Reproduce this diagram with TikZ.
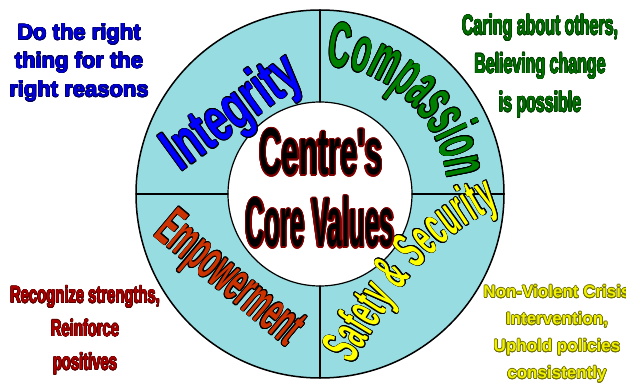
\documentclass[tikz,border=0pt]{standalone}
\usepackage{fontspec}
\setmainfont{Liberation Sans}
\newfontfamily\integrityfont[FakeStretch=0.63]{Liberation Sans}
\newfontfamily\compassionfont[FakeStretch=0.47]{Liberation Sans}
\newfontfamily\empowerfont[FakeStretch=0.45]{Liberation Sans}
\newfontfamily\safetyfont[FakeStretch=0.46]{Liberation Sans}
\newfontfamily\centrefont[FakeStretch=0.47]{Liberation Sans}
\newfontfamily\corefont[FakeStretch=0.37]{Liberation Sans}
\newfontfamily\caringfont[FakeStretch=0.57]{Liberation Sans}
\newfontfamily\strengthfont[FakeStretch=0.63]{Liberation Sans}
\usepackage[copies]{contour}
\usepackage{tkz-euclide}
\usetikzlibrary{decorations.text}
\definecolor{RingClr}{RGB}{150,220,224}
\definecolor{IntegrityClr}{RGB}{0,0,255}
\definecolor{CompassionClr}{RGB}{0,128,0}
\definecolor{EmpowerClr}{RGB}{204,51,0}
\definecolor{SafetyClr}{RGB}{255,255,0}
\definecolor{CoreRimClr}{RGB}{128,0,0}
\definecolor{DoClr}{RGB}{0,0,215}
\definecolor{DoRimClr}{RGB}{0,0,90}
\definecolor{CaringClr}{RGB}{0,110,0}
\definecolor{CaringRimClr}{RGB}{0,60,0}
\definecolor{StrengthClr}{RGB}{170,0,0}
\definecolor{StrengthRimClr}{RGB}{90,0,0}
\definecolor{CrisisClr}{RGB}{240,240,0}
\definecolor{CrisisRimClr}{RGB}{110,110,0}
\newcommand\rimtext[3][0.8pt]{{\contourlength{#1}\contour{#2}{#3}}}
\newcommand\blackchar[1]{\rimtext{black}{#1}}

\begin{document}
\begin{tikzpicture}[x=1pt,y=1pt,every node/.style={inner sep=0pt}]
\tkzSetUpLine[line width=1.2pt,color=black]
\useasboundingbox (0,0) rectangle (626,383);

\tkzDefPoints{320/189/O,320/373/T,320/281/Ti,320/97/Bi,320/5/B}
\tkzDefPoints{136/189/L,228/189/Li,412/189/Ri,504/189/R}

% ring and hub
\fill[RingClr] (O) circle[radius=184];
\draw[line width=1.5pt] (O) circle[radius=184];
\fill[white] (O) circle[radius=92];
\draw[line width=1.2pt] (O) circle[radius=92];
\tkzDrawSegments(T,Ti Bi,B L,Li Ri,R)

% the four values
\node[rotate=36,anchor=base,text=IntegrityClr,
  font=\integrityfont\bfseries\fontsize{62}{62}\selectfont] (integrity) at (243,256) {\blackchar{Integrity}};
\path[decorate,decoration={text effects along path,text={Compassion},
  text effects/.cd,fit text to path,character command=\blackchar,
  characters={transform shape,anchor=base,text=CompassionClr,font=\compassionfont\bfseries\fontsize{64}{64}\selectfont}}]
  (O) ++(87:128) arc[start angle=87,end angle=7,radius=128];
\node[rotate=-40,anchor=base,text=EmpowerClr,
  font=\empowerfont\bfseries\fontsize{56}{56}\selectfont] (empowerment) at (219.5,92) {\blackchar{Empowerment}};
\path[decorate,decoration={text effects along path,text={Safety {\&} Security},
  text effects/.cd,fit text to path,character command=\blackchar,
  characters={transform shape,anchor=base,text=SafetyClr,font=\safetyfont\bfseries\fontsize{54}{54}\selectfont}}]
  (353,18) to[out=60,in=207] (500,177);

% centre
\node[anchor=base,text=black,font=\centrefont\bfseries\fontsize{66}{66}\selectfont] (centre) at (321,208) {\rimtext[1.3pt]{CoreRimClr}{Centre's}};
\node[anchor=base,text=black,font=\corefont\bfseries\fontsize{70}{70}\selectfont] (core) at (320,136) {\rimtext[1.3pt]{CoreRimClr}{Core Values}};

% notes round the ring
\node[align=center,text=DoClr,font=\bfseries\fontsize{22}{28.5}\selectfont] (doright) at (79,320.2)
  {\rimtext[0.5pt]{DoRimClr}{Do the right}\\\rimtext[0.5pt]{DoRimClr}{thing for the}\\\rimtext[0.5pt]{DoRimClr}{right reasons}};
\node[align=center,text=CaringClr,font=\caringfont\bfseries\fontsize{28}{38.5}\selectfont] (caring) at (540,316.7)
  {\rimtext[0.4pt]{CaringRimClr}{Caring about others,}\\\rimtext[0.4pt]{CaringRimClr}{Believing change}\\\rimtext[0.4pt]{CaringRimClr}{is possible}};
\node[align=center,text=StrengthClr,font=\strengthfont\bfseries\fontsize{23.5}{33.5}\selectfont] (strengths) at (85,52.5)
  {\rimtext[0.4pt]{StrengthRimClr}{Recognize strengths,}\\\rimtext[0.4pt]{StrengthRimClr}{Reinforce}\\\rimtext[0.4pt]{StrengthRimClr}{positives}};
\node[align=center,text=CrisisClr,font=\bfseries\fontsize{17}{27}\selectfont] (crisis) at (557,49)
  {\rimtext[0.6pt]{CrisisRimClr}{Non-Violent Crisis}\\\rimtext[0.6pt]{CrisisRimClr}{Intervention,}\\\rimtext[0.6pt]{CrisisRimClr}{Uphold policies}\\\rimtext[0.6pt]{CrisisRimClr}{consistently}};
\end{tikzpicture}
\end{document}
